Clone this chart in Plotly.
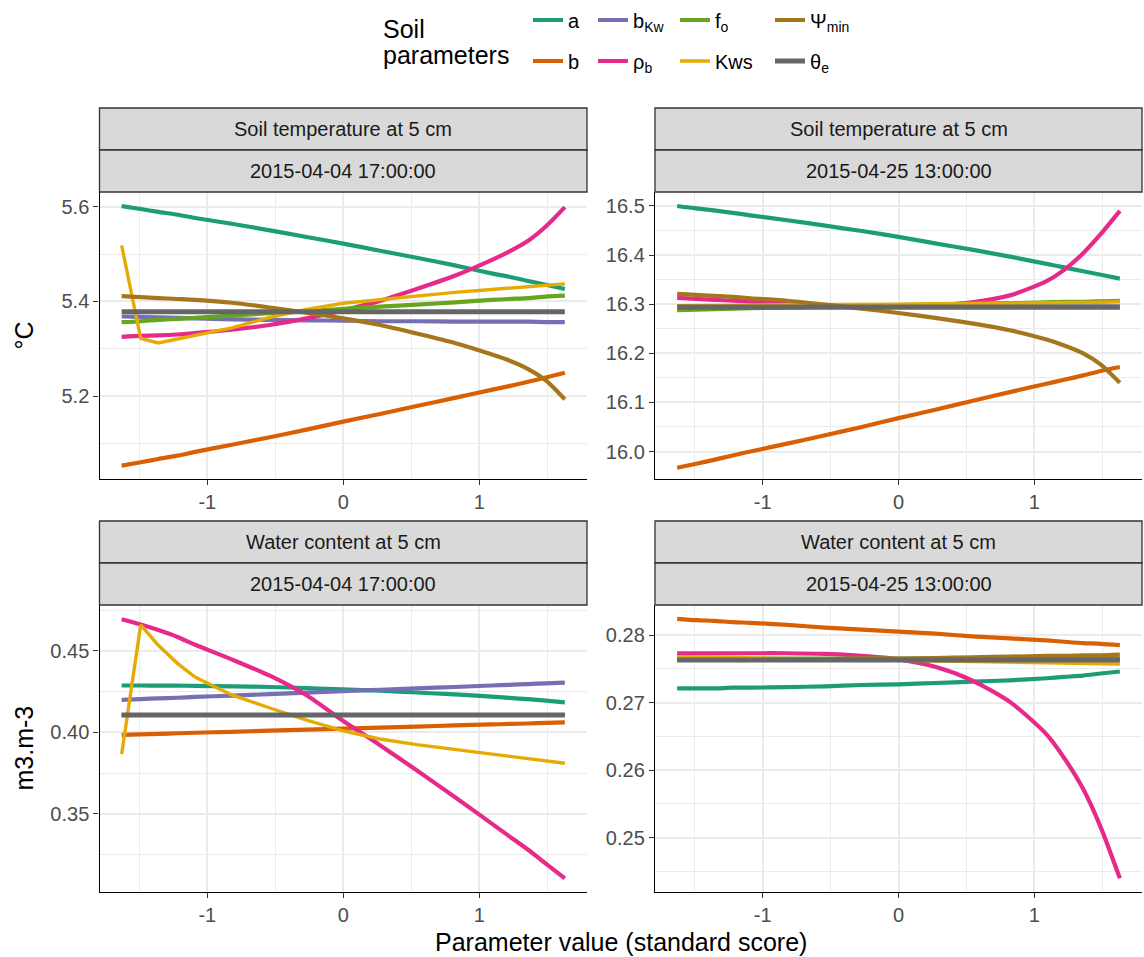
import plotly.graph_objects as go

# ---------------- data ----------------
X = [-1.63, -1.49, -1.36, -1.22, -1.09, -0.82, -0.54, -0.27, 0.0, 0.27, 0.54, 0.82, 1.09, 1.22, 1.36, 1.49, 1.63]

PARAMS = ["a", "b", "bKw", "rho_b", "fo", "Kws", "Psi_min", "theta_e"]
LABELS = ["a", "b", "b<sub>Kw</sub>", "ρ<sub>b</sub>", "f<sub>o</sub>", "Kws", "Ψ<sub>min</sub>", "θ<sub>e</sub>"]
COLORS = ["#1B9E77", "#D95F02", "#7570B3", "#E7298A", "#66A61E", "#E6AB02", "#A6761D", "#666666"]

VARIABLES = ["Soil temperature at 5 cm", "Soil temperature at 5 cm", "Water content at 5 cm", "Water content at 5 cm"]
DATES = ["2015-04-04 17:00:00", "2015-04-25 13:00:00", "2015-04-04 17:00:00", "2015-04-25 13:00:00"]
Y_TITLES = ["°C", "m3.m-3"]
X_TITLE = "Parameter value (standard score)"
LEGEND_TITLE = ["Soil", "parameters"]
X_TICKS = [-1, 0, 1]

# top-left: soil temperature, 2015-04-04
TL_a = [5.601, 5.595, 5.589, 5.583, 5.576, 5.564, 5.550, 5.536, 5.522, 5.507, 5.492, 5.476, 5.459, 5.452, 5.443, 5.435, 5.426]
TL_b = [5.053, 5.060, 5.067, 5.074, 5.082, 5.097, 5.113, 5.129, 5.146, 5.162, 5.179, 5.196, 5.213, 5.221, 5.230, 5.239, 5.249]
TL_bKw = [5.368, 5.367, 5.366, 5.365, 5.364, 5.362, 5.361, 5.360, 5.359, 5.358, 5.358, 5.357, 5.357, 5.357, 5.357, 5.356, 5.356]
TL_rho = [5.325, 5.327, 5.328, 5.330, 5.333, 5.340, 5.350, 5.364, 5.381, 5.401, 5.426, 5.454, 5.487, 5.505, 5.528, 5.558, 5.599]
TL_fo = [5.356, 5.358, 5.361, 5.363, 5.365, 5.370, 5.375, 5.379, 5.384, 5.389, 5.393, 5.398, 5.403, 5.405, 5.407, 5.410, 5.412]
TL_Kws = [5.518, 5.322, 5.312, 5.320, 5.328, 5.344, 5.366, 5.383, 5.396, 5.404, 5.411, 5.419, 5.425, 5.428, 5.431, 5.434, 5.437]
TL_psi = [5.411, 5.409, 5.407, 5.405, 5.403, 5.397, 5.387, 5.376, 5.364, 5.350, 5.332, 5.312, 5.288, 5.275, 5.257, 5.233, 5.193]
TL_theta = [5.378, 5.378, 5.378, 5.378, 5.378, 5.378, 5.378, 5.378, 5.378, 5.378, 5.378, 5.378, 5.378, 5.378, 5.378, 5.378, 5.378]

# top-right: soil temperature, 2015-04-25
TR_a = [16.500, 16.495, 16.491, 16.486, 16.481, 16.471, 16.460, 16.449, 16.437, 16.424, 16.411, 16.397, 16.382, 16.375, 16.367, 16.360, 16.352]
TR_b = [15.967, 15.975, 15.983, 15.992, 16.000, 16.016, 16.033, 16.050, 16.068, 16.085, 16.103, 16.121, 16.138, 16.146, 16.155, 16.164, 16.172]
TR_bKw = [16.296, 16.296, 16.296, 16.296, 16.295, 16.295, 16.295, 16.295, 16.295, 16.295, 16.295, 16.295, 16.295, 16.295, 16.295, 16.295, 16.295]
TR_rho = [16.313, 16.311, 16.309, 16.307, 16.305, 16.301, 16.298, 16.296, 16.296, 16.298, 16.304, 16.318, 16.347, 16.370, 16.404, 16.443, 16.490]
TR_fo = [16.288, 16.289, 16.290, 16.291, 16.292, 16.293, 16.295, 16.296, 16.298, 16.299, 16.301, 16.302, 16.304, 16.305, 16.305, 16.306, 16.307]
TR_Kws = [16.297, 16.297, 16.298, 16.298, 16.298, 16.299, 16.299, 16.300, 16.300, 16.301, 16.301, 16.302, 16.303, 16.303, 16.304, 16.304, 16.305]
TR_psi = [16.321, 16.319, 16.317, 16.315, 16.312, 16.307, 16.299, 16.291, 16.282, 16.272, 16.261, 16.247, 16.228, 16.216, 16.200, 16.177, 16.140]
TR_theta = [16.294, 16.294, 16.294, 16.294, 16.294, 16.294, 16.294, 16.294, 16.294, 16.294, 16.294, 16.294, 16.294, 16.294, 16.294, 16.294, 16.294]

# bottom-left: water content, 2015-04-04
BL_a = [0.4288, 0.4288, 0.4287, 0.4287, 0.4286, 0.4283, 0.4279, 0.4272, 0.4264, 0.4256, 0.4245, 0.4233, 0.4220, 0.4212, 0.4204, 0.4195, 0.4185]
BL_b = [0.3985, 0.3988, 0.3991, 0.3995, 0.3998, 0.4004, 0.4011, 0.4017, 0.4024, 0.4030, 0.4036, 0.4043, 0.4049, 0.4052, 0.4055, 0.4059, 0.4062]
BL_bKw = [0.4200, 0.4205, 0.4209, 0.4213, 0.4218, 0.4226, 0.4235, 0.4244, 0.4253, 0.4262, 0.4270, 0.4279, 0.4288, 0.4292, 0.4297, 0.4301, 0.4306]
BL_rho = [0.4694, 0.4662, 0.4628, 0.4586, 0.4538, 0.4448, 0.4348, 0.4228, 0.4070, 0.3922, 0.3768, 0.3604, 0.3442, 0.3364, 0.3280, 0.3195, 0.3105]
BL_fo = [0.4107, 0.4107, 0.4107, 0.4107, 0.4107, 0.4107, 0.4107, 0.4107, 0.4107, 0.4107, 0.4107, 0.4107, 0.4107, 0.4107, 0.4107, 0.4107, 0.4107]
BL_Kws = [0.3868, 0.4660, 0.4535, 0.4424, 0.4340, 0.4230, 0.4150, 0.4075, 0.4010, 0.3960, 0.3925, 0.3895, 0.3868, 0.3855, 0.3842, 0.3828, 0.3811]
BL_psi = [0.4107, 0.4107, 0.4107, 0.4107, 0.4107, 0.4107, 0.4107, 0.4107, 0.4107, 0.4107, 0.4107, 0.4107, 0.4107, 0.4107, 0.4107, 0.4107, 0.4107]
BL_theta = [0.4107, 0.4107, 0.4107, 0.4107, 0.4107, 0.4107, 0.4107, 0.4107, 0.4107, 0.4107, 0.4107, 0.4107, 0.4107, 0.4107, 0.4107, 0.4107, 0.4107]

# bottom-right: water content, 2015-04-25
BR_a = [0.2721, 0.2721, 0.2721, 0.2722, 0.2722, 0.2723, 0.2724, 0.2726, 0.2727, 0.2729, 0.2731, 0.2733, 0.2736, 0.2738, 0.2740, 0.2743, 0.2746]
BR_b = [0.2824, 0.2822, 0.2821, 0.2819, 0.2818, 0.2815, 0.2811, 0.2808, 0.2805, 0.2802, 0.2798, 0.2795, 0.2792, 0.2790, 0.2788, 0.2787, 0.2785]
BR_bKw = [0.2764, 0.2764, 0.2764, 0.2764, 0.2764, 0.2764, 0.2764, 0.2764, 0.2764, 0.2764, 0.2764, 0.2764, 0.2764, 0.2764, 0.2764, 0.2764, 0.2764]
BR_rho = [0.2773, 0.2773, 0.2773, 0.2773, 0.2773, 0.2773, 0.2772, 0.2769, 0.2764, 0.2753, 0.2733, 0.2701, 0.2653, 0.2618, 0.2572, 0.2515, 0.2440]
BR_fo = [0.2765, 0.2765, 0.2765, 0.2765, 0.2765, 0.2765, 0.2765, 0.2765, 0.2765, 0.2765, 0.2765, 0.2765, 0.2765, 0.2765, 0.2765, 0.2765, 0.2765]
BR_Kws = [0.2768, 0.2768, 0.2767, 0.2767, 0.2766, 0.2765, 0.2764, 0.2763, 0.2762, 0.2761, 0.2760, 0.2759, 0.2758, 0.2758, 0.2757, 0.2757, 0.2757]
BR_psi = [0.2763, 0.2763, 0.2763, 0.2763, 0.2763, 0.2764, 0.2764, 0.2765, 0.2765, 0.2766, 0.2767, 0.2768, 0.2769, 0.2769, 0.2770, 0.2770, 0.2771]
BR_theta = [0.2763, 0.2763, 0.2763, 0.2763, 0.2763, 0.2763, 0.2763, 0.2763, 0.2763, 0.2763, 0.2763, 0.2763, 0.2763, 0.2763, 0.2763, 0.2763, 0.2763]

PANEL_SERIES = [
    [TL_a, TL_b, TL_bKw, TL_rho, TL_fo, TL_Kws, TL_psi, TL_theta],
    [TR_a, TR_b, TR_bKw, TR_rho, TR_fo, TR_Kws, TR_psi, TR_theta],
    [BL_a, BL_b, BL_bKw, BL_rho, BL_fo, BL_Kws, BL_psi, BL_theta],
    [BR_a, BR_b, BR_bKw, BR_rho, BR_fo, BR_Kws, BR_psi, BR_theta],
]

# ---------------- layout geometry (pixels) ----------------
W, H = 1144, 957
FONT = "Liberation Sans, Arial, sans-serif"

def px(x):
    return x / W

def py(y):
    return 1 - y / H

COLS = [(99.5, 587.0), (655.0, 1142.0)]
ROWS = [(192.0, 479.0), (605.0, 892.0)]
STRIP_H = 42.0

Y_RANGES = [[5.0247, 5.631], [15.944, 16.5285], [0.3021, 0.4782], [0.24197, 0.28444]]
Y_MAJOR = [[5.2, 5.4, 5.6], [16.0, 16.1, 16.2, 16.3, 16.4, 16.5], [0.35, 0.40, 0.45], [0.25, 0.26, 0.27, 0.28]]
Y_MINOR = [[5.1, 5.3, 5.5], [16.05, 16.15, 16.25, 16.35, 16.45], [0.325, 0.375, 0.425, 0.475], [0.245, 0.255, 0.265, 0.275]]
Y_FMT = [".1f", ".1f", ".2f", ".2f"]

GRID = "#EBEBEB"

fig = go.Figure()

# legend placement (column-major like ggplot): key x positions, row y positions
LEG_COLS = [533, 598, 680, 775]
LEG_ROWS = [20, 61]

for p in range(4):
    suffix = "" if p == 0 else str(p + 1)
    for k, name in enumerate(PARAMS):
        width = 5.2 if name == "theta_e" else (3.4 if name == "Kws" else 4.2)
        shape = "linear" if name == "Kws" else "spline"
        leg = "legend" if k == 0 else f"legend{k + 1}"
        fig.add_trace(go.Scatter(
            x=X, y=PANEL_SERIES[p][k], mode="lines",
            line=dict(color=COLORS[k], width=width, shape=shape, smoothing=0.7),
            name=LABELS[k], legendgroup=name, showlegend=(p == 0),
            legend=leg, xaxis="x" + suffix, yaxis="y" + suffix,
            hoverinfo="skip",
        ))

layout = dict(
    width=W, height=H,
    margin=dict(l=0, r=0, t=0, b=0),
    paper_bgcolor="white", plot_bgcolor="white",
    font=dict(family=FONT, size=20, color="#1A1A1A"),
    shapes=[], annotations=[],
)

for p in range(4):
    r, c = divmod(p, 2)
    suffix = "" if p == 0 else str(p + 1)
    x0, x1 = COLS[c]
    y0, y1 = ROWS[r]
    common = dict(
        showline=True, linecolor="black", linewidth=1.4,
        ticks="outside", ticklen=5, tickwidth=1.4, tickcolor="#333333",
        showgrid=True, gridcolor=GRID, gridwidth=1.6, zeroline=False,
        tickfont=dict(family=FONT, size=20, color="#4D4D4D"),
        fixedrange=True,
    )
    layout["xaxis" + suffix] = dict(
        common, domain=[px(x0), px(x1)], range=[-1.793, 1.793],
        tickmode="array", tickvals=X_TICKS, ticktext=[str(v) for v in X_TICKS],
        minor=dict(tickmode="array", tickvals=[-1.5, -0.5, 0.5, 1.5], showgrid=True,
                   gridcolor=GRID, gridwidth=0.8, ticks=""),
        anchor="y" + suffix,
    )
    layout["yaxis" + suffix] = dict(
        common, domain=[py(y1), py(y0)], range=Y_RANGES[p],
        tickmode="array", tickvals=Y_MAJOR[p],
        ticktext=[format(v, Y_FMT[p]) for v in Y_MAJOR[p]],
        minor=dict(tickmode="array", tickvals=Y_MINOR[p], showgrid=True,
                   gridcolor=GRID, gridwidth=0.8, ticks=""),
        anchor="x" + suffix,
    )
    # strips
    for s, text in enumerate([VARIABLES[p], DATES[p]]):
        top = y0 - STRIP_H * (2 - s)
        bot = top + STRIP_H
        layout["shapes"].append(dict(
            type="rect", xref="paper", yref="paper",
            x0=px(x0), x1=px(x1), y0=py(bot), y1=py(top),
            fillcolor="#D9D9D9", line=dict(color="#333333", width=1.3),
        ))
        layout["annotations"].append(dict(
            text=text, xref="paper", yref="paper", showarrow=False,
            x=px((x0 + x1) / 2), y=py((top + bot) / 2),
            xanchor="center", yanchor="middle",
            font=dict(family=FONT, size=20, color="#1A1A1A"),
        ))

# axis titles
for r, title in enumerate(Y_TITLES):
    y0, y1 = ROWS[r]
    layout["annotations"].append(dict(
        text=title, xref="paper", yref="paper", showarrow=False,
        x=px(23), y=py((y0 + y1) / 2), xanchor="center", yanchor="middle",
        textangle=-90, font=dict(family=FONT, size=25, color="black"),
    ))
layout["annotations"].append(dict(
    text=X_TITLE, xref="paper", yref="paper", showarrow=False,
    x=px((COLS[0][0] + COLS[1][1]) / 2), y=py(942), xanchor="center", yanchor="middle",
    font=dict(family=FONT, size=25, color="black"),
))

# legend title (two lines)
for i, (txt, yy) in enumerate(zip(LEGEND_TITLE, [29, 55])):
    layout["annotations"].append(dict(
        text=txt, xref="paper", yref="paper", showarrow=False,
        x=px(381), y=py(yy), xanchor="left", yanchor="middle",
        font=dict(family=FONT, size=25, color="black"),
    ))

# legends: one per parameter, arranged in 4 columns x 2 rows (column-major)
for k in range(len(PARAMS)):
    col, row = divmod(k, 2)
    key = "legend" if k == 0 else f"legend{k + 1}"
    layout[key] = dict(
        x=px(LEG_COLS[col] - 5), y=py(LEG_ROWS[row]),
        xanchor="left", yanchor="middle", orientation="h",
        bgcolor="rgba(0,0,0,0)", borderwidth=0,
        font=dict(family=FONT, size=20, color="black"),
        itemclick=False, itemdoubleclick=False,
    )

fig.update_layout(**layout)
fig.write_html("out.html")
